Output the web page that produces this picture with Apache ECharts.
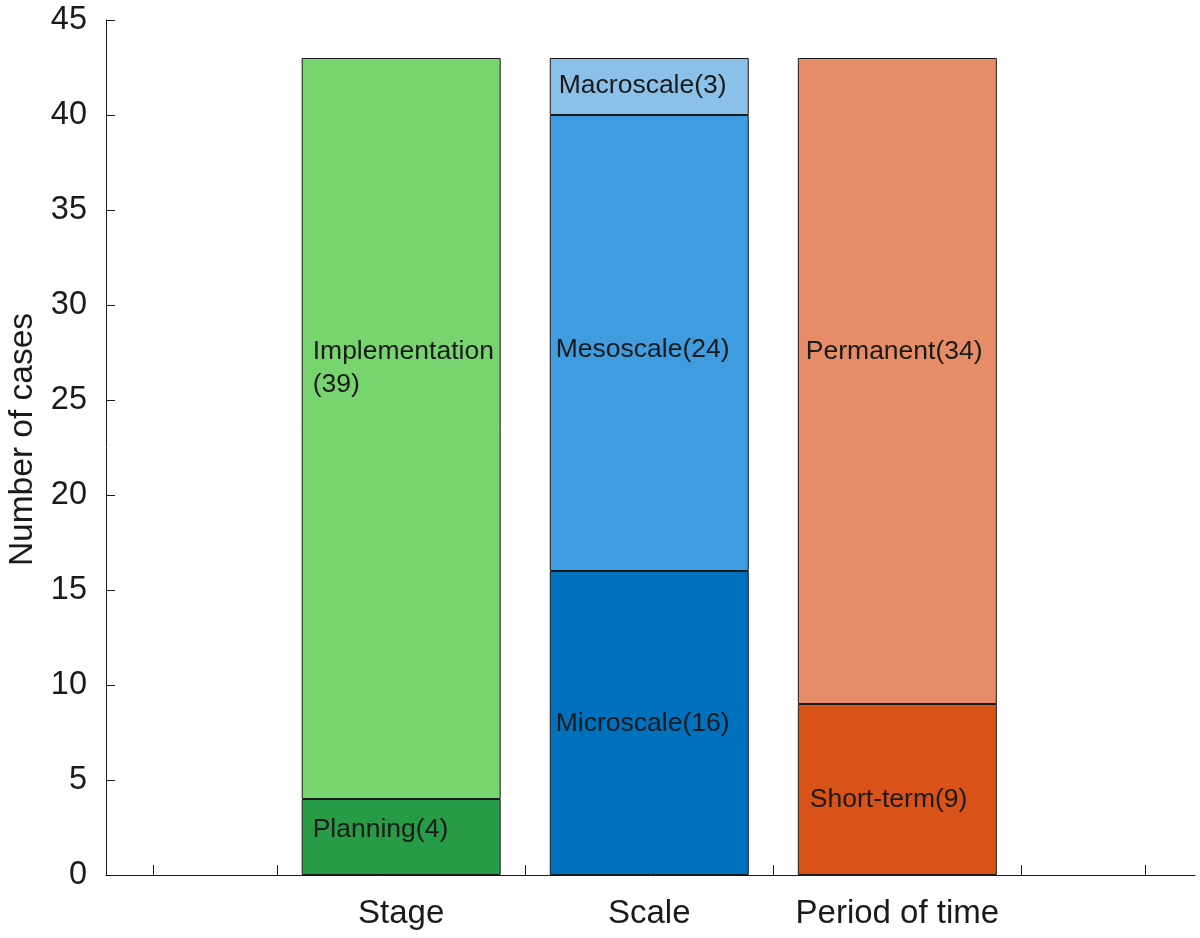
<!DOCTYPE html>
<html>
<head>
<meta charset="utf-8">
<script src="https://cdn.jsdelivr.net/npm/echarts@6.0.0/dist/echarts.min.js"></script>
<style>
  html, body { margin: 0; background: #fff; }
  #chart { width: 1200px; height: 938px; }
</style>
</head>
<body>
<div id="chart"></div>
<script>
// categories along x
const groupNames = ["Stage", "Scale", "Period of time"];

// stacked segments per bar, bottom to top
const stageSegments = ["Planning", "Implementation"];
const stageCounts = [4, 39];
const scaleSegments = ["Microscale", "Mesoscale", "Macroscale"];
const scaleCounts = [16, 24, 3];
const periodSegments = ["Short-term", "Permanent"];
const periodCounts = [9, 34];

// y ticks
const yMin = 0;
const yMax = 45;
const yStep = 5;

// x extent of the axis line (bars sit at 1, 2, 3), ticks every half unit from 0 to 4
const xMin = -0.19;
const xMax = 4.2;
const xTickMin = 0;
const xTickMax = 4;
const xTickStep = 0.5;

// looks
const segmentColors = {
  Planning: "#289b46",
  Implementation: "#77d46f",
  Microscale: "#0072bd",
  Mesoscale: "#3e9cdf",
  Macroscale: "#8bc1e8",
  "Short-term": "#d95319",
  Permanent: "#e68c66",
};
// label anchor inside each segment rect: [px from left, % from top]
const labelSpots = {
  Planning: [11, "40%"],
  Implementation: [11, "41.9%"],
  Microscale: [6, "50.3%"],
  Mesoscale: [6, "51.4%"],
  Macroscale: [9, "48%"],
  "Short-term": [12, "56%"],
  Permanent: [8, "45.5%"],
};
const wrapLabel = { Implementation: true };

const FONT = "'Liberation Sans', Arial, Helvetica, sans-serif";
const INK = "#1a1a1a";

// plot box in pixels
const W = 1200;
const boxLeft = 106;
const boxRight = 1195;
const boxTop = 20;
const boxBottom = 63;

const pxPerUnit = (boxRight - boxLeft) / (xMax - xMin);
const xToPx = (v) => boxLeft + (v - xMin) * pxPerUnit;

// bars grid covers x = 0.5 .. 3.5, tick grid covers x = 0 .. 4
const barGrid = { left: xToPx(0.5), right: W - xToPx(groupNames.length + 0.5) };
const tickGrid = { left: xToPx(xTickMin), right: W - xToPx(xTickMax) };

function groupSeries(groupIndex, names, counts) {
  return names.map((name, i) => ({
    name: name,
    type: "bar",
    xAxisIndex: 1,
    yAxisIndex: 1,
    stack: "cases",
    barWidth: 199,
    z: 3,
    data: [[groupNames[groupIndex], counts[i]]],
    itemStyle: {
      color: segmentColors[name],
      borderColor: INK,
      borderWidth: 1,
    },
    label: {
      show: true,
      position: labelSpots[name],
      align: "left",
      verticalAlign: "middle",
      fontSize: 26.5,
      lineHeight: 33,
      fontFamily: FONT,
      color: INK,
      formatter: () =>
        wrapLabel[name] ? `${name}\n(${counts[i]})` : `${name}(${counts[i]})`,
    },
  }));
}

const series = [
  ...groupSeries(0, stageSegments, stageCounts),
  ...groupSeries(1, scaleSegments, scaleCounts),
  ...groupSeries(2, periodSegments, periodCounts),
];

const chart = echarts.init(document.getElementById("chart"), null, {
  renderer: "canvas",
});

const gridBase = { top: boxTop, bottom: boxBottom, outerBoundsMode: "none", containLabel: false };

chart.setOption({
  animation: false,
  backgroundColor: "#fff",
  grid: [
    { ...gridBase, left: boxLeft, right: W - boxRight },
    { ...gridBase, left: barGrid.left, right: barGrid.right },
    { ...gridBase, left: tickGrid.left, right: tickGrid.right },
  ],
  xAxis: [
    {
      // long axis line only
      type: "value",
      gridIndex: 0,
      min: xMin,
      max: xMax,
      splitLine: { show: false },
      axisLine: { show: true, lineStyle: { color: INK, width: 1 } },
      axisTick: { show: false },
      axisLabel: { show: false },
    },
    {
      type: "category",
      gridIndex: 1,
      data: groupNames,
      splitLine: { show: false },
      axisLine: { show: false },
      axisTick: { show: false },
      axisLabel: {
        interval: 0,
        margin: 22,
        fontSize: 33,
        fontFamily: FONT,
        color: INK,
      },
    },
    {
      // tick marks every half unit
      type: "value",
      gridIndex: 2,
      min: xTickMin,
      max: xTickMax,
      interval: xTickStep,
      splitLine: { show: false },
      axisLine: { show: false },
      axisTick: {
        show: true,
        inside: true,
        length: 10,
        lineStyle: { color: INK, width: 1 },
      },
      axisLabel: { show: false },
    },
  ],
  yAxis: [
    {
      type: "value",
      gridIndex: 0,
      min: yMin,
      max: yMax,
      interval: yStep,
      name: "Number of cases",
      nameLocation: "middle",
      nameGap: 64,
      nameTextStyle: {
        fontSize: 33.5,
        fontFamily: FONT,
        color: INK,
        padding: [0, 0, 0, 16],
      },
      splitLine: { show: false },
      axisLine: { show: true, onZero: false, lineStyle: { color: INK, width: 1 } },
      axisTick: {
        show: true,
        inside: true,
        length: 9,
        lineStyle: { color: INK, width: 1 },
      },
      axisLabel: {
        margin: 19,
        fontSize: 32.5,
        fontFamily: FONT,
        color: INK,
      },
    },
    { type: "value", gridIndex: 1, min: yMin, max: yMax, interval: yStep, show: false },
    { type: "value", gridIndex: 2, min: yMin, max: yMax, interval: yStep, show: false },
  ],
  series: series,
});
</script>
</body>
</html>
